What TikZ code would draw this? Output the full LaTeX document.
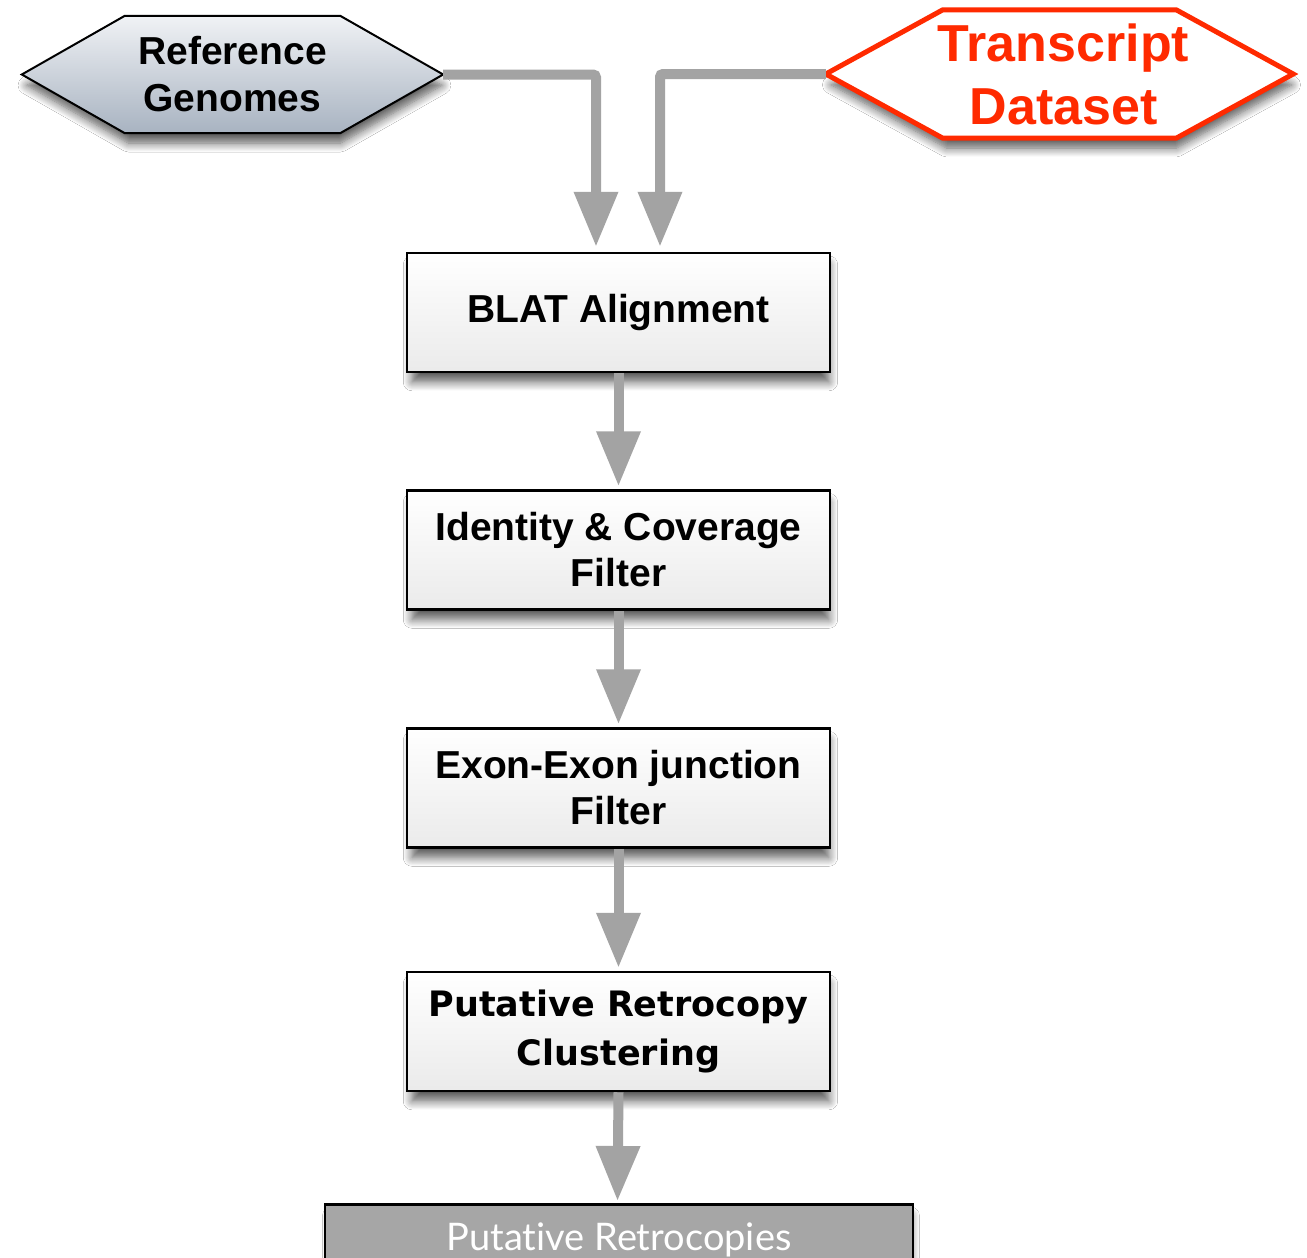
\documentclass[tikz,border=0pt]{standalone}
\usepackage{fontspec}
\setmainfont{Liberation Sans}
\newfontfamily\clusterfont{DejaVu Sans}
\newfontfamily\resultfont[Ligatures=NoCommon]{Lato}
\usetikzlibrary{arrows.meta,shadows.blur}

\definecolor{arrowgray}{HTML}{A3A3A3}
\definecolor{alertred}{HTML}{FF2A00}
\definecolor{steeltop}{HTML}{F0F2F5}
\definecolor{steelbottom}{HTML}{A8B3C1}
\definecolor{resultgray}{HTML}{A6A6A6}

\tikzset{
  softshadow/.style={blur shadow={shadow xshift=2pt, shadow yshift=-11pt,
      shadow scale=0.985, shadow blur radius=9pt, shadow blur steps=10,
      shadow opacity=65}},
  stepbox/.style={draw=black, line width=2.5pt, top color=white,
      bottom color=black!8, minimum width=423pt, minimum height=119pt,
      inner sep=0pt, align=center, softshadow,
      font=\bfseries\fontsize{39}{46}\selectfont},
  hexframe/.style={minimum width=#1, inner sep=0pt},
  conn/.style={draw=arrowgray, line width=10pt, rounded corners=3pt,
      -{Triangle[length=55pt,width=42pt]}},
}

\begin{document}
\begin{tikzpicture}[x=1pt,y=1pt]
\clip (0,0) rectangle (1307,-1258);
\fill[white] (0,0) rectangle (1307,-1258);

% input data sources (hexagons)
\node[hexframe=421pt, minimum height=117pt] (ref) at (232.5,-74.5) {};
\node[hexframe=467pt, minimum height=128pt] (trans) at (1059.5,-74) {};
\path[draw=black, line width=2pt, top color=steeltop,
      bottom color=steelbottom, softshadow]
  (ref.west) -- ([xshift=103pt]ref.north west)
  -- ([xshift=-103pt]ref.north east) -- (ref.east)
  -- ([xshift=-103pt]ref.south east)
  -- ([xshift=103pt]ref.south west) -- cycle;
\path[draw=alertred, line width=5pt, fill=white, softshadow]
  (trans.west) -- ([xshift=117pt]trans.north west)
  -- ([xshift=-117pt]trans.north east) -- (trans.east)
  -- ([xshift=-117pt]trans.south east)
  -- ([xshift=117pt]trans.south west) -- cycle;
\node[align=center, font=\bfseries\fontsize{39}{47}\selectfont]
  (reflabel) at (ref.center) {Reference\\Genomes};
\node[align=center, text=alertred, font=\bfseries\fontsize{52}{63}\selectfont]
  (translabel) at ([xshift=4pt]trans.center) {Transcript\\Dataset};

% pipeline steps
\node[stepbox] (blat)  at (618.5,-312.5) {BLAT Alignment};
\node[stepbox] (ident) at (618.5,-550)   {Identity \& Coverage\\Filter};
\node[stepbox] (exon)  at (618.5,-788)   {Exon-Exon junction\\Filter};
\node[stepbox, font=\clusterfont\bfseries\fontsize{35}{49}\selectfont]
      (clust) at (618.5,-1031.5) {Putative Retrocopy\\Clustering};
\node[draw=black, line width=2.5pt, fill=resultgray, softshadow,
      minimum width=588pt, minimum height=100pt, inner sep=0pt,
      anchor=north] (result) at (619,-1203) {};
\node[text=white, font=\resultfont\fontsize{38}{44}\selectfont,
      anchor=base] (resultlabel) at (619,-1250) {Putative Retrocopies};

% connectors
\draw[conn] (ref.east) -| ([xshift=-22.5pt,yshift=5pt]blat.north);
\draw[conn] (trans.west) -| ([xshift=41.5pt,yshift=5pt]blat.north);
\draw[conn] (blat.south)  -- ([yshift=3pt]ident.north);
\draw[conn] (ident.south) -- ([yshift=3pt]exon.north);
\draw[conn] (exon.south)  -- ([yshift=3pt]clust.north);
\draw[conn] (clust.south) -- ([xshift=-1.5pt,yshift=2pt]result.north);
\end{tikzpicture}
\end{document}
